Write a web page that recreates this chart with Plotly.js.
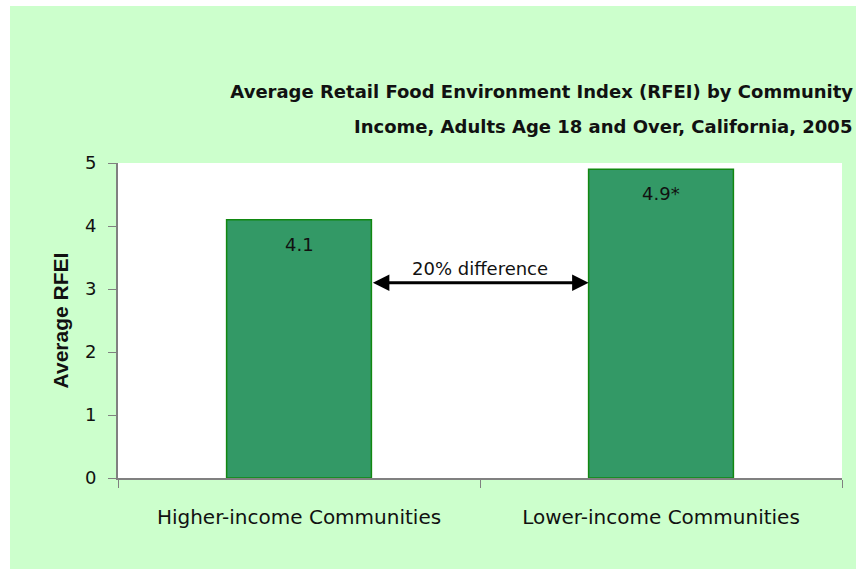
<!DOCTYPE html>
<html>
<head>
<meta charset="utf-8">
<script src="https://cdn.plot.ly/plotly-3.0.1.min.js"></script>
<style>
  html, body { margin: 0; padding: 0; background: #ffffff; }
  #chart { position: absolute; left: 10px; top: 6px; width: 846px; height: 563px; }
</style>
</head>
<body>
<div id="chart"></div>
<script>
const categories = ["Higher-income Communities", "Lower-income Communities"];
const values = [4.1, 4.9];
const valueLabels = ["4.1", "4.9*"];
const differenceLabel = "20% difference";
const arrowLevel = 3.1;
const yTicks = [0, 1, 2, 3, 4, 5];
const titleLine1 = "Average Retail Food Environment Index (RFEI) by Community";
const titleLine2 = "Income, Adults Age 18 and Over, California, 2005";

const barWidth = 0.4;
const font = "DejaVu Sans, sans-serif";

const trace = {
  type: "bar",
  x: categories,
  y: values,
  width: barWidth,
  textposition: "none",
  marker: { color: "#339966", line: { color: "#118811", width: 1.5 } },
  hoverinfo: "skip"
};

const valueAnnotations = categories.map((c, i) => ({
  xref: "x", yref: "y",
  x: c, y: values[i],
  yanchor: "top", yshift: -12,
  text: valueLabels[i], showarrow: false,
  font: { family: font, size: 18, color: "#111111" }
}));

const layout = {
  width: 846,
  height: 563,
  margin: { l: 108, r: 14, t: 157, b: 91 },
  paper_bgcolor: "#ccffcc",
  plot_bgcolor: "#ffffff",
  showlegend: false,
  font: { family: font, color: "#111111" },
  title: {
    text: "<b>" + titleLine1 + "</b>",
    x: 0.9965, xanchor: "right", xref: "container",
    y: 0.847, yanchor: "middle", yref: "container",
    font: { family: font, size: 18, color: "#111111" }
  },
  xaxis: {
    type: "category",
    showline: true, linecolor: "#808080", linewidth: 2,
    ticks: "outside", tickson: "boundaries", ticklen: 8, tickcolor: "#808080", tickwidth: 1,
    tickfont: { family: font, size: 20, color: "#111111" },
    ticklabelstandoff: 20,
    showgrid: false, zeroline: false, fixedrange: true
  },
  yaxis: {
    range: [0, 5],
    tickvals: yTicks,
    showline: true, linecolor: "#808080", linewidth: 2,
    ticks: "outside", ticklen: 8, tickcolor: "#808080", tickwidth: 1,
    tickfont: { family: font, size: 18, color: "#111111" },
    ticklabelstandoff: 8,
    showgrid: false, zeroline: false, fixedrange: true,
    title: { text: "<b>Average RFEI</b>", font: { family: "Liberation Sans, Arial, sans-serif", size: 21, color: "#111111" }, standoff: 11 }
  },
  annotations: [
    {
      xref: "paper", yref: "paper",
      x: 1.016, xanchor: "right",
      y: 1.117, yanchor: "middle",
      text: "<b>" + titleLine2 + "</b>", showarrow: false,
      font: { family: font, size: 18, color: "#111111" }
    },
    {
      xref: "x", yref: "y", axref: "x", ayref: "y",
      x: 1 - barWidth / 2, y: arrowLevel,
      ax: barWidth / 2, ay: arrowLevel,
      text: "", showarrow: true,
      arrowside: "end+start", arrowhead: 2, arrowsize: 1.1, arrowwidth: 3, arrowcolor: "#000000"
    },
    {
      xref: "x", yref: "y",
      x: 0.5, y: arrowLevel,
      yanchor: "bottom", yshift: 2,
      text: differenceLabel, showarrow: false,
      font: { family: font, size: 18, color: "#111111" }
    }
  ].concat(valueAnnotations)
};

Plotly.newPlot("chart", [trace], layout, { displayModeBar: false, staticPlot: true });
</script>
</body>
</html>
